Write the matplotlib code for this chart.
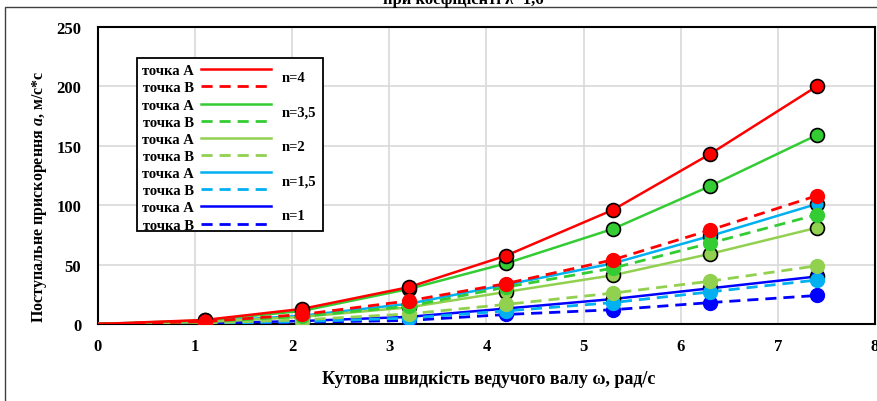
import matplotlib.pyplot as plt
from matplotlib.patches import Rectangle
from matplotlib.lines import Line2D

plt.rcParams['font.family'] = ['Liberation Serif', 'DejaVu Serif']
plt.rcParams['font.weight'] = 'bold'
plt.rcParams['mathtext.fontset'] = 'custom'
plt.rcParams['mathtext.it'] = 'Liberation Serif:italic:bold'
plt.rcParams['mathtext.rm'] = 'Liberation Serif:bold'

# кутова швидкість, рад/с
omega = [0, 1.1, 2.1, 3.2, 4.2, 5.3, 6.3, 7.4]

# прискорення, м/с*с
n4_A = [0, 3.4, 12.7, 31, 57.5, 96, 143, 200]
n4_B = [0, 2, 8, 19.5, 34, 54, 79, 108]
n35_A = [0, 3, 11, 29.5, 51, 80, 116, 159]
n35_B = [0, 1.8, 6.5, 15, 31, 47, 68, 92]
n2_A = [0, 1.6, 6, 14, 27, 41, 59, 81]
n2_B = [0, 0.9, 3.5, 8.5, 16.5, 26, 36, 49]
n15_A = [0, 2, 7, 17, 33, 51, 74, 101]
n15_B = [0, 0.6, 2, 5, 11, 18, 27, 37]
n1_A = [0, 0.7, 2.5, 6, 13, 21, 30, 40]
n1_B = [0, 0.4, 1.5, 3, 8, 12, 18, 24]

n_labels = ['n=4', 'n=3,5', 'n=2', 'n=1,5', 'n=1']
colors = ['#FF0000', '#33CC33', '#92D050', '#00B0F0', '#0000FF']
series_A = [n4_A, n35_A, n2_A, n15_A, n1_A]
series_B = [n4_B, n35_B, n2_B, n15_B, n1_B]

fig = plt.figure(figsize=(8.78, 4.02), dpi=100)
ax = fig.add_axes([98 / 878, 1 - 325 / 402, 777 / 878, 297 / 402])

# малюємо від n=1 до n=4, щоб червоні були зверху
for i in range(len(colors) - 1, -1, -1):
    c = colors[i]
    ax.plot(omega, series_A[i], color=c, lw=1.8, marker='o', markersize=10,
            markerfacecolor=c, markeredgecolor='black', markeredgewidth=1.2,
            markevery=range(1, len(omega)), zorder=3)
    ax.plot(omega, series_B[i], color=c, lw=2.0, dashes=(4, 2.5), marker='o',
            markersize=10, markerfacecolor=c, markeredgecolor=c,
            markevery=range(1, len(omega)), zorder=3)

handles = []
labels = []
for c in colors:
    handles.append(Line2D([], [], color=c, lw=1.8))
    handles.append(Line2D([], [], color=c, lw=2.0, dashes=(4, 2.5)))
    labels += ['точка А', 'точка В']

ax.set_xlim(0, 8)
ax.set_ylim(0, 250)
ax.set_xticks(range(0, 9))
ax.set_yticks(range(0, 251, 50))
ax.grid(True, color='#D9D9D9', lw=1.2)
ax.set_axisbelow(True)
ax.tick_params(length=0, labelsize=12)
ax.tick_params(axis='y', pad=12)
ax.tick_params(axis='x', pad=10)
for s in ax.spines.values():
    s.set_linewidth(1.5)
    s.set_color('black')

ax.set_xlabel('Кутова швидкість ведучого валу ω, рад/с', fontsize=13,
              fontweight='bold')
ax.xaxis.set_label_coords((489 - 98) / 777, -(371 - 325) / 297)
ax.set_ylabel('Поступальне прискорення $a$, м/с*с', fontsize=11.5,
              fontweight='bold')
ax.yaxis.set_label_coords(-(98 - 49) / 777, (325 - 197) / 297)

leg = ax.legend(handles, labels, loc='upper left', bbox_to_anchor=(0.057, 0.875),
                frameon=False, fontsize=10.5, markerfirst=False, handlelength=4.8,
                handletextpad=0.45, labelspacing=0.27, borderpad=0, borderaxespad=0)
leg.set_zorder(6)
ax.add_patch(Rectangle((0.050, 0.313), 0.24, 0.583, transform=ax.transAxes,
                       facecolor='white', edgecolor='black', lw=1.3, zorder=5))
n_y = [0.83, 0.715, 0.598, 0.48, 0.365]
for lab, yy in zip(n_labels, n_y):
    ax.text(0.237, yy, lab, transform=ax.transAxes, fontsize=10.5,
            fontweight='bold', va='center', ha='left', zorder=7)

# обрізаний заголовок зверху
fig.text(0.528, 1.0, 'при коефіцієнті λ=1,6', ha='center', va='center',
         fontsize=12, fontweight='bold')
# рамка області діаграми
fig.patches.append(Rectangle((5 / 878, -0.05), 1.1, (402 - 8) / 402 + 0.05,
                             transform=fig.transFigure, fill=False,
                             edgecolor='#404040', lw=1.0))

plt.savefig('out.png', dpi=100)
